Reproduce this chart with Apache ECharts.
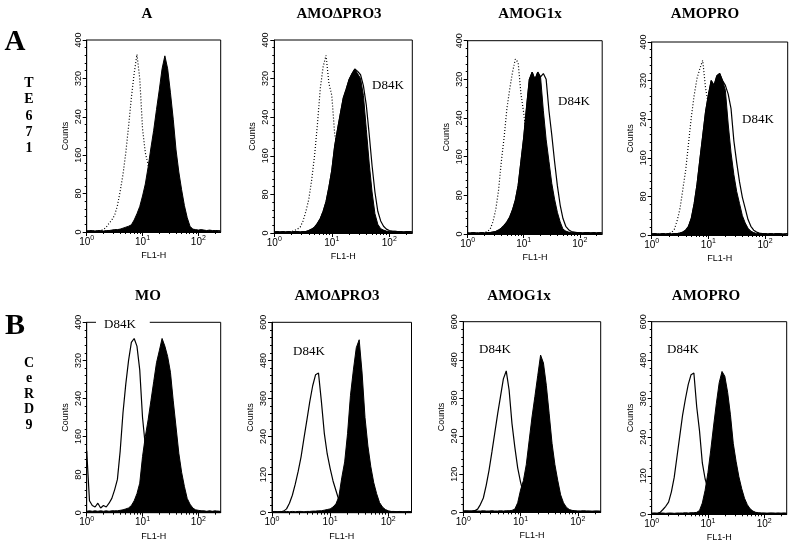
<!DOCTYPE html>
<html><head><meta charset="utf-8">
<script src="https://cdn.jsdelivr.net/npm/echarts@6/dist/echarts.min.js"></script>
<style>html,body{margin:0;padding:0;background:#fff}#c{width:800px;height:547px}</style>
</head><body><div id="c"></div>
<script>
// log10(FL1-H) channel positions
const logFL1 = [0,0.05,0.1,0.15,0.2,0.25,0.3,0.35,0.4,0.45,0.5,0.55,0.6,0.65,0.7,0.75,0.8,0.85,0.9,0.95,1.0,1.05,1.1,1.15,1.2,1.25,1.3,1.35,1.4,1.45,1.5,1.55,1.6,1.65,1.7,1.75,1.8,1.85,1.9,1.95,2.0,2.05,2.1,2.15,2.2,2.25,2.3,2.35,2.4];
const xTickLabels = [0, 1, 2];          // 10^0, 10^1, 10^2
const xMinorTicks = [2,3,4,5,6,7,8,9,20,30,40,50,60,70,80,90,200];

const rowATitles = ['A', 'AMO\u0394PRO3', 'AMOG1x', 'AMOPRO'];
const rowBTitles = ['MO', 'AMO\u0394PRO3', 'AMOG1x', 'AMOPRO'];
const rowALetters = 'TE671';
const rowBLetters = 'CeRD9';
const outlineLabel = 'D84K';

// Row A (TE671) — control (dotted), sample (filled), D84K (outline)
const a1Control = [2,2,2,2,2,3,5,10,18,25,35,55,85,120,165,220,280,330,370,320,215,165,140,100,60,35,18,8,4,2,2,2,2,2,2,2,2,2,2,2,2,2,2,2,2,2,2,2,2];
const a1Filled  = [2,3,3,2,3,3,2,3,3,4,5,5,6,8,10,12,15,25,38,53,75,100,135,175,212,255,296,340,367,340,290,235,171,125,88,55,30,12,6,5,4,5,4,3,4,3,3,3,2];

const a2Control = [2,2,2,2,2,2,3,5,8,12,25,45,70,110,160,225,300,345,368,310,285,205,175,130,85,50,25,10,5,2,2,2,2,2,2,2,2,2,2,2,2,2,2,2,2,2,2,2,2];
const a2Filled  = [2,3,2,3,2,3,2,3,3,2,3,3,5,8,12,20,30,45,65,95,130,180,215,248,280,298,318,330,340,330,320,285,215,145,85,40,18,9,6,4,3,3,4,3,3,2,3,3,2];
const a2Outline = [2,3,2,3,2,3,2,3,3,2,3,3,5,8,12,20,30,45,65,95,130,180,215,248,280,298,318,330,340,335,328,305,265,205,140,85,45,25,14,8,5,4,3,3,3,2,3,3,2];

const a3Control = [2,2,2,2,2,2,3,5,10,25,50,90,150,200,260,300,335,362,355,290,250,200,150,100,55,25,10,5,3,2,2,2,2,2,2,2,2,2,2,2,2,2,2,2,2,2,2,2,2];
const a3Filled  = [2,2,3,2,2,3,2,3,3,4,5,8,12,18,25,35,50,70,100,150,200,262,320,335,320,335,325,255,195,150,105,72,45,25,10,6,4,3,3,3,3,2,3,3,2,3,2,3,2];
const a3Outline = [2,2,3,2,2,3,2,3,3,4,5,8,12,18,25,35,50,70,100,150,200,262,320,335,320,335,325,332,320,255,205,150,100,60,32,16,9,5,4,3,3,2,3,3,2,3,2,3,2];

const a4Control = [2,2,2,2,2,2,3,5,12,30,55,95,135,190,245,290,325,345,362,305,270,220,170,120,75,40,18,8,4,2,2,2,2,2,2,2,2,2,2,2,2,2,2,2,2,2,2,2,2];
const a4Filled  = [2,3,2,2,3,2,3,2,3,3,4,6,10,18,35,65,105,156,205,255,290,320,310,330,335,320,300,230,170,125,90,65,40,25,14,8,5,3,3,3,3,2,3,2,3,3,2,2,3];
const a4Outline = [2,3,2,2,3,2,3,2,3,3,4,6,10,18,35,65,105,156,205,255,290,320,310,330,335,320,310,292,262,195,150,110,78,55,32,18,10,6,4,3,3,2,3,2,3,3,2,2,3];

// Row B (CeRD9) — D84K (outline), sample (filled)
const b1Outline = [130,25,15,12,20,10,15,12,20,30,48,70,130,210,270,320,358,366,350,300,200,140,100,65,40,22,12,7,5,3,3,2,3,2,3,2,3,2,2,3,2,3,2,2,3,2,2,3,2];
const b1Filled  = [3,4,3,4,3,4,3,4,3,4,4,4,5,6,8,10,15,25,40,62,118,160,195,235,275,315,340,366,350,328,295,235,180,125,85,55,30,18,10,6,5,4,4,3,4,3,4,3,3];

const b2Outline = [3,3,3,3,5,12,30,55,90,130,176,235,292,350,400,435,440,350,250,185,140,100,70,40,20,10,5,3,3,3,3,3,3,3,3,3,3,3,3,3,3,3,3,3,3,3,3,3,3];
const b2Filled  = [3,4,3,4,3,4,3,4,3,4,4,3,4,4,5,5,6,6,8,10,12,18,28,50,110,160,250,370,450,520,545,440,300,210,145,95,60,32,18,10,6,4,4,3,4,3,3,4,3];

const b3Outline = [4,3,4,4,5,10,25,45,85,133,190,250,310,365,420,445,385,280,205,140,95,60,38,22,12,6,4,3,3,3,3,3,3,3,3,3,3,3,3,3,3,3,3,3,3,3,3,3,3];
const b3Filled  = [4,5,4,4,5,4,4,5,4,4,5,4,4,5,4,5,5,6,10,30,70,100,150,225,300,364,430,495,470,400,310,217,150,100,55,30,16,9,6,5,4,4,5,4,4,3,4,4,3];

const b4Outline = [3,3,3,6,15,25,38,70,115,180,245,310,360,405,435,440,335,260,160,110,80,55,35,20,10,6,3,3,3,3,3,3,3,3,3,3,3,3,3,3,3,3,3,3,3,3,3,3,3];
const b4Filled  = [3,4,3,4,4,3,4,4,3,4,4,4,5,4,5,5,6,12,35,75,130,200,275,346,410,445,430,380,310,221,165,117,80,50,30,17,10,6,5,4,4,3,4,4,3,4,3,4,3];

const panels = [
  {grid:[86.7,40,134,192],   yMax:400, yStep:80,  control:a1Control, filled:a1Filled, outline:null,      label:null},
  {grid:[274.3,40,138,193],  yMax:400, yStep:80,  control:a2Control, filled:a2Filled, outline:a2Outline, label:[372,86]},
  {grid:[467.7,40.7,134.5,193.3], yMax:400, yStep:80, control:a3Control, filled:a3Filled, outline:a3Outline, label:[558,102]},
  {grid:[651.7,42,136,193],  yMax:400, yStep:80,  control:a4Control, filled:a4Filled, outline:a4Outline, label:[742,120]},
  {grid:[86.7,322.3,134,190.4], yMax:400, yStep:80, control:null, filled:b1Filled, outline:b1Outline, label:[96,325], mask:true},
  {grid:[272,322.3,139.5,190.4], yMax:600, yStep:120, control:null, filled:b2Filled, outline:b2Outline, label:[293,352]},
  {grid:[463.3,321.7,137.4,190.6], yMax:600, yStep:120, control:null, filled:b3Filled, outline:b3Outline, label:[479,350]},
  {grid:[651.7,321.7,135,192.6], yMax:600, yStep:120, control:null, filled:b4Filled, outline:b4Outline, label:[667,350]}
];

const SANS = '"Liberation Sans", Arial, sans-serif';
const SERIF = '"Liberation Serif", "Times New Roman", serif';
const pairs = arr => logFL1.map((x, i) => [x, arr[i]]);

const grid = [], xAxis = [], yAxis = [], series = [], graphic = [];
panels.forEach((p, i) => {
  grid.push({left:p.grid[0], top:p.grid[1], width:p.grid[2], height:p.grid[3],
    show:true, borderColor:'#000', borderWidth:1, backgroundColor:'transparent'});
  xAxis.push({
    gridIndex:i, type:'value', min:0, max:2.4,
    axisLine:{lineStyle:{color:'#000', width:1}},
    axisTick:{length:4, lineStyle:{color:'#000'}, customValues:xTickLabels},
    axisLabel:{customValues:xTickLabels, margin:3, color:'#000',
      formatter: v => '{b|10}{s|' + v + '}',
      rich:{b:{fontSize:10, fontFamily:SANS, color:'#000'},
            s:{fontSize:7, fontFamily:SANS, color:'#000', padding:[0,0,7,0]}}},
    splitLine:{show:false},
    name:'FL1-H', nameLocation:'middle', nameGap:19,
    nameTextStyle:{fontSize:9, fontFamily:SANS, color:'#000'}
  });
  xAxis.push({
    gridIndex:i, type:'value', min:0, max:2.4, position:'bottom',
    axisLine:{show:false},
    axisTick:{length:2, lineStyle:{color:'#000'}, customValues:xMinorTicks.map(Math.log10)},
    axisLabel:{show:false}, splitLine:{show:false}
  });
  yAxis.push({
    gridIndex:i, type:'value', min:0, max:p.yMax, interval:p.yStep,
    axisLine:{show:true, lineStyle:{color:'#000', width:1}},
    axisTick:{show:true, length:4, lineStyle:{color:'#000'}},
    minorTick:{show:true, splitNumber:5, length:2, lineStyle:{color:'#000'}},
    axisLabel:{rotate:90, fontSize:9, fontFamily:SANS, color:'#000', margin:4},
    splitLine:{show:false},
    name:'Counts', nameLocation:'middle', nameRotate:90, nameGap:17,
    nameTextStyle:{fontSize:9, fontFamily:SANS, color:'#000'}
  });
  const xi = i * 2;
  if (p.outline) series.push({type:'line', xAxisIndex:xi, yAxisIndex:i, data:pairs(p.outline),
    showSymbol:false, symbol:'none', lineStyle:{color:'#000', width:1.2}, z:2, silent:true});
  series.push({type:'line', xAxisIndex:xi, yAxisIndex:i, data:pairs(p.filled),
    showSymbol:false, symbol:'none', lineStyle:{color:'#000', width:1},
    areaStyle:{color:'#000', opacity:1}, z:3, silent:true});
  if (p.control) series.push({type:'line', xAxisIndex:xi, yAxisIndex:i, data:pairs(p.control),
    showSymbol:false, symbol:'none', lineStyle:{color:'#000', width:1.2, type:[1,2]}, z:4, silent:true});
  if (p.label) graphic.push({type:'text', x:p.label[0], y:p.label[1], z:100,
    style:{text:outlineLabel, font:'13px ' + SERIF, fill:'#000', textVerticalAlign:'middle',
      backgroundColor: p.mask ? '#fff' : undefined, padding: p.mask ? [2,14,2,8] : 0}});
});

// Titles
const titleX = [147, 339, 530, 705];
const titleXB = [148, 337, 519, 706];
rowATitles.forEach((t, i) => graphic.push({type:'text', x:titleX[i], y:14, z:100,
  style:{text:t, font:'bold 15px ' + SERIF, fill:'#000', textAlign:'center', textVerticalAlign:'middle'}}));
rowBTitles.forEach((t, i) => graphic.push({type:'text', x:titleXB[i], y:296, z:100,
  style:{text:t, font:'bold 15px ' + SERIF, fill:'#000', textAlign:'center', textVerticalAlign:'middle'}}));
graphic.push({type:'text', x:15, y:43, z:100, style:{text:'A', font:'bold 29px ' + SERIF, fill:'#000', textAlign:'center', textVerticalAlign:'middle'}});
graphic.push({type:'text', x:15, y:326, z:100, style:{text:'B', font:'bold 30px ' + SERIF, fill:'#000', textAlign:'center', textVerticalAlign:'middle'}});
graphic.push({type:'text', x:29, y:116, z:100, style:{text:rowALetters.split('').join('\n'), font:'bold 14px ' + SERIF, lineHeight:16.3, fill:'#000', textAlign:'center', textVerticalAlign:'middle'}});
graphic.push({type:'text', x:29, y:394, z:100, style:{text:rowBLetters.split('').join('\n'), font:'bold 14px ' + SERIF, lineHeight:15.5, fill:'#000', textAlign:'center', textVerticalAlign:'middle'}});

const chart = echarts.init(document.getElementById('c'), null, {renderer:'canvas'});
chart.setOption({animation:false, backgroundColor:'#fff', grid, xAxis, yAxis, series, graphic});
</script></body></html>
